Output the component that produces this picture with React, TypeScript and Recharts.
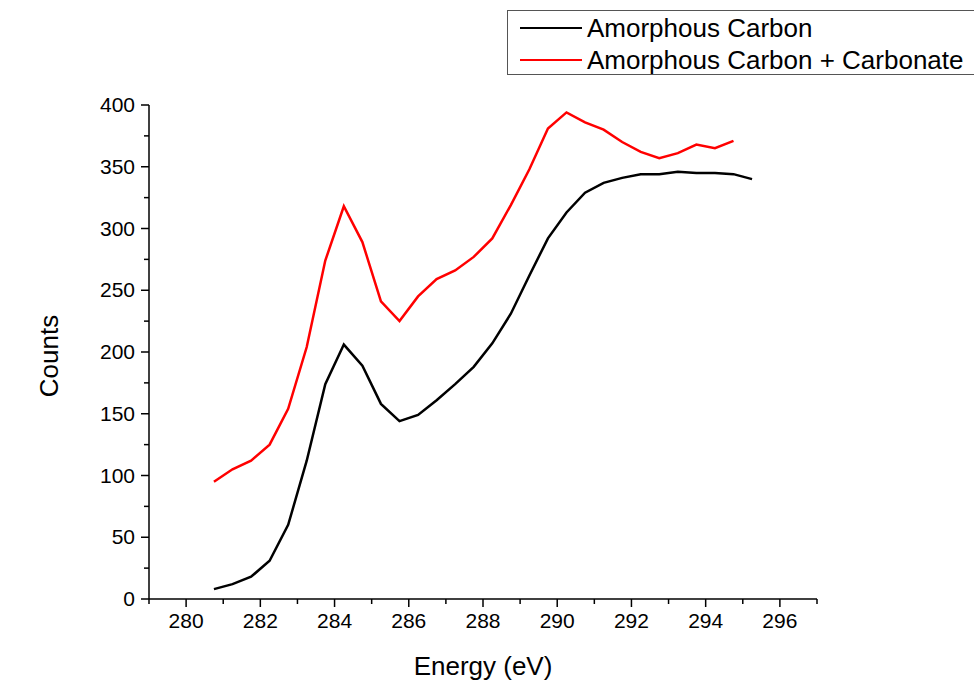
import { LineChart, Line, XAxis, YAxis, Legend } from "recharts";

const energies = [
  280.75, 281.25, 281.75, 282.25, 282.75, 283.25, 283.75, 284.25, 284.75, 285.25,
  285.75, 286.25, 286.75, 287.25, 287.75, 288.25, 288.75, 289.25, 289.75, 290.25,
  290.75, 291.25, 291.75, 292.25, 292.75, 293.25, 293.75, 294.25, 294.75, 295.25,
];

const amorphousCarbon = [
  8, 12, 18, 31, 60, 112, 174, 206, 189, 158,
  144, 149, 161, 174, 188, 207, 231, 262, 292, 313,
  329, 337, 341, 344, 344, 346, 345, 345, 344, 340,
];

const withCarbonate = [
  95, 105, 112, 125, 154, 204, 274, 318, 289, 241,
  225, 245, 259, 266, 277, 292, 319, 348, 381, 394,
  386, 380, 370, 362, 357, 361, 368, 365, 371,
];

const xTicks = [279, 280, 281, 282, 283, 284, 285, 286, 287, 288, 289, 290, 291, 292, 293, 294, 295, 296, 297];
const yTicks = [0, 25, 50, 75, 100, 125, 150, 175, 200, 225, 250, 275, 300, 325, 350, 375, 400];

const seriesNames = ["Amorphous Carbon", "Amorphous Carbon + Carbonate"];

const data = energies.map((e, i) => ({
  energy: e,
  carbon: amorphousCarbon[i],
  carbonate: withCarbonate[i],
}));

const FONT = "'Liberation Sans', Arial, sans-serif";

const XTick = (props: any) => {
  const { x, y, payload } = props;
  const major = payload.value % 2 === 0;
  return (
    <g>
      <line x1={x} y1={y} x2={x} y2={y + (major ? 8 : 5)} stroke="#000" strokeWidth={1.5} />
      {major && (
        <text x={x} y={y + 29} textAnchor="middle" fontSize={21} fontFamily={FONT} fill="#000">
          {payload.value}
        </text>
      )}
    </g>
  );
};

const YTick = (props: any) => {
  const { x, y, payload } = props;
  const major = payload.value % 50 === 0;
  return (
    <g>
      <line x1={x - (major ? 8 : 5)} y1={y} x2={x} y2={y} stroke="#000" strokeWidth={1.5} />
      {major && (
        <text x={x - 14} y={y + 7} textAnchor="end" fontSize={21} fontFamily={FONT} fill="#000">
          {payload.value}
        </text>
      )}
    </g>
  );
};

// rotated y title, centred on the plot height
const CountsLabel = (props: any) => {
  const vb = props.viewBox || {};
  const cx = 49;
  const cy = (vb.y ?? 105) + (vb.height ?? 494) / 2 + 4;
  return (
    <text
      x={cx}
      y={cy}
      transform={`rotate(-90, ${cx}, ${cy})`}
      textAnchor="middle"
      dominantBaseline="central"
      fontSize={26}
      fontFamily={FONT}
      fill="#000"
    >
      Counts
    </text>
  );
};

const LegendBox = () => {
  const colors = ["#000000", "#ff0000"];
  return (
    <div
      style={{
        width: 467,
        height: 65,
        border: "1px solid #555",
        borderRight: "none",
        background: "#fff",
        boxSizing: "border-box",
        fontFamily: FONT,
        fontSize: 26,
        color: "#000",
      }}
    >
      {seriesNames.map((name, i) => (
        <div key={name} style={{ display: "flex", alignItems: "center", height: 32, marginTop: i === 0 ? 1 : 0 }}>
          <div style={{ width: 62, height: 2, background: colors[i], marginLeft: 12, marginRight: 5 }} />
          <span style={{ whiteSpace: "nowrap" }}>{name}</span>
        </div>
      ))}
    </div>
  );
};

export default function App() {
  return (
    <div style={{ position: "absolute", left: 0, top: 0, width: 974, height: 681, background: "#fff", overflow: "hidden" }}>
      <LineChart width={974} height={681} data={data} margin={{ top: 105, right: 157, bottom: 0, left: 0 }}>
        <XAxis
          dataKey="energy"
          type="number"
          domain={[279, 297]}
          ticks={xTicks}
          interval={0}
          height={82}
          tickSize={0}
          tickMargin={0}
          tickLine={false}
          axisLine={{ stroke: "#000", strokeWidth: 1.5 }}
          tick={<XTick />}
          label={{ value: "Energy (eV)", position: "insideBottom", offset: 6, fontSize: 26, fontFamily: FONT, fill: "#000" }}
        />
        <YAxis
          type="number"
          domain={[0, 400]}
          ticks={yTicks}
          interval={0}
          width={149}
          tickSize={0}
          tickMargin={0}
          tickLine={false}
          axisLine={{ stroke: "#000", strokeWidth: 1.5 }}
          tick={<YTick />}
          label={<CountsLabel />}
        />
        <Legend
          layout="vertical"
          verticalAlign="middle"
          align="center"
          content={<LegendBox />}
          wrapperStyle={{ position: "absolute", left: 507, top: 10, width: 467, height: 66 }}
        />
        <Line
          dataKey="carbon"
          name={seriesNames[0]}
          stroke="#000000"
          strokeWidth={2.5}
          dot={false}
          type="linear"
          isAnimationActive={false}
        />
        <Line
          dataKey="carbonate"
          name={seriesNames[1]}
          stroke="#ff0000"
          strokeWidth={2.5}
          dot={false}
          type="linear"
          isAnimationActive={false}
        />
      </LineChart>
    </div>
  );
}
